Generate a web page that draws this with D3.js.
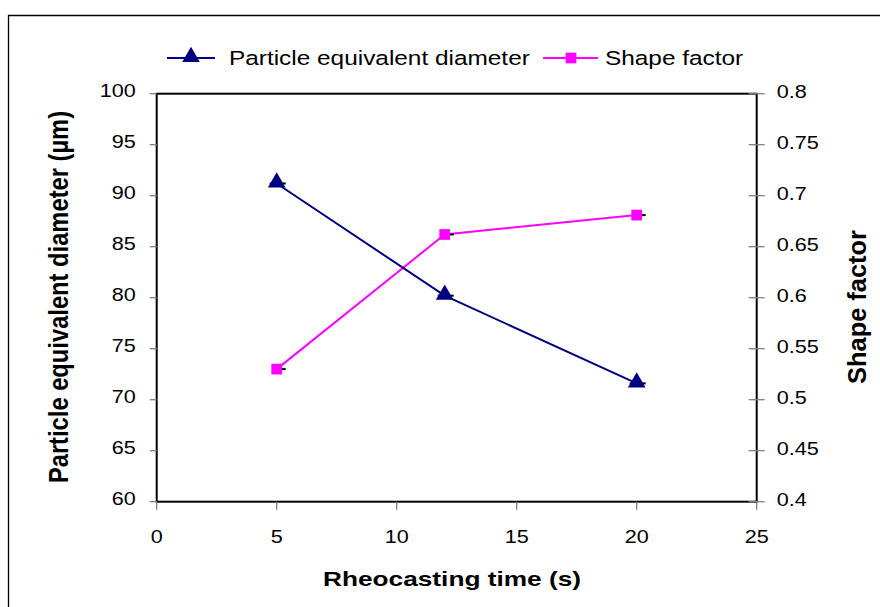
<!DOCTYPE html>
<html><head><meta charset="utf-8">
<script src="https://cdn.jsdelivr.net/npm/d3@7"></script>
<style>body{margin:0;background:#fff}svg{display:block}text{font-family:"Liberation Sans",Arial,sans-serif}</style>
</head><body><svg id="c" width="880" height="607"></svg>
<script>
const times = [5, 12, 20];
const diameter = [91.2, 80.2, 71.6];
const shapeFactor = [0.53, 0.662, 0.681];
const xTicks = [0, 5, 10, 15, 20, 25];
const yLeftTicks = [60, 65, 70, 75, 80, 85, 90, 95, 100];
const yRightTicks = [0.4, 0.45, 0.5, 0.55, 0.6, 0.65, 0.7, 0.75, 0.8];
const seriesNames = ["Particle equivalent diameter", "Shape factor"];

const svg = d3.select("#c");
const L = 156.7, R = 756.7, T = 93.7, B = 501.7;
const x = d3.scaleLinear().domain([0, 25]).range([L, R]);
const yL = d3.scaleLinear().domain([60, 100]).range([B, T]);
const yR = d3.scaleLinear().domain([0.4, 0.8]).range([B, T]);

// text helper with stretch
function txt(px, py, s, size, anchor, sx, sy, rot, bold) {
  const t = svg.append("text")
    .attr("transform", `translate(${px},${py})` + (rot ? ` rotate(${rot})` : "") + ` scale(${sx},${sy})`)
    .attr("font-size", size).attr("text-anchor", anchor).text(s);
  if (bold) t.attr("font-weight", "bold");
  return t;
}

// outer frame
svg.append("path").attr("d", "M8.5,607 V15.5 H880").attr("fill", "none").attr("stroke", "#000").attr("stroke-width", 1.3);

// plot frame
svg.append("rect").attr("x", L).attr("y", T).attr("width", R - L).attr("height", B - T)
  .attr("fill", "none").attr("stroke", "#000").attr("stroke-width", 2);

const tickColor = "#808080";
const tsz = 18, tsx = 1.2;
yLeftTicks.forEach(v => {
  svg.append("line").attr("x1", L - 7).attr("x2", L).attr("y1", yL(v)).attr("y2", yL(v)).attr("stroke", tickColor).attr("stroke-width", 1.3);
  txt(L - 21, yL(v) + 3.5, v, tsz, "end", tsx, 1);
});
yRightTicks.forEach(v => {
  svg.append("line").attr("x1", R - 8).attr("x2", R + 8).attr("y1", yR(v)).attr("y2", yR(v)).attr("stroke", tickColor).attr("stroke-width", 1.3);
  txt(R + 20, yR(v) + 4, v, tsz, "start", tsx, 1);
});
xTicks.forEach(v => {
  svg.append("line").attr("x1", x(v)).attr("x2", x(v)).attr("y1", B).attr("y2", B + 8).attr("stroke", tickColor).attr("stroke-width", 1.3);
  txt(x(v), B + 41, v, tsz, "middle", tsx, 1);
});

// titles
txt(452, 586, "Rheocasting time (s)", 21, "middle", 1.25, 1, 0, true);
txt(68, 297, "Particle equivalent diameter (µm)", 21, "middle", 1.13, 1.28, -90, true);
txt(866, 307, "Shape factor", 21, "middle", 1.21, 1.2, -90, true);

const navy = "#000080", mag = "#FF00FF";
const tri = d3.symbol().type(d3.symbolTriangle).size(135);
const sq = d3.symbol().type(d3.symbolSquare).size(115);

const lineR = d3.line().x((d, i) => x(times[i])).y(d => yR(d));
svg.append("path").attr("d", lineR(shapeFactor)).attr("fill", "none").attr("stroke", mag).attr("stroke-width", 2);
shapeFactor.forEach((v, i) => {
  svg.append("line").attr("x1", x(times[i])).attr("x2", x(times[i]) + 9).attr("y1", yR(v)).attr("y2", yR(v)).attr("stroke", "#000").attr("stroke-width", 2);
  svg.append("path").attr("d", sq).attr("transform", `translate(${x(times[i])},${yR(v)})`).attr("fill", mag);
});
const lineL = d3.line().x((d, i) => x(times[i])).y(d => yL(d));
svg.append("path").attr("d", lineL(diameter)).attr("fill", "none").attr("stroke", navy).attr("stroke-width", 2);
diameter.forEach((v, i) => {
  svg.append("line").attr("x1", x(times[i]) - 7).attr("x2", x(times[i]) + 9).attr("y1", yL(v)).attr("y2", yL(v)).attr("stroke", "#000").attr("stroke-width", 2);
  svg.append("path").attr("d", tri).attr("transform", `translate(${x(times[i])},${yL(v) - 1})`).attr("fill", navy);
});

// legend
const ly = 58;
svg.append("line").attr("x1", 167).attr("x2", 215).attr("y1", ly).attr("y2", ly).attr("stroke", navy).attr("stroke-width", 2);
svg.append("path").attr("d", tri).attr("transform", `translate(191,${ly - 1})`).attr("fill", navy);
txt(229, ly + 7, seriesNames[0], 20.5, "start", 1.19, 1);
svg.append("line").attr("x1", 543).attr("x2", 598).attr("y1", ly).attr("y2", ly).attr("stroke", mag).attr("stroke-width", 2);
svg.append("path").attr("d", sq).attr("transform", `translate(571,${ly})`).attr("fill", mag);
txt(605, ly + 7, seriesNames[1], 20.5, "start", 1.19, 1);
</script></body></html>
